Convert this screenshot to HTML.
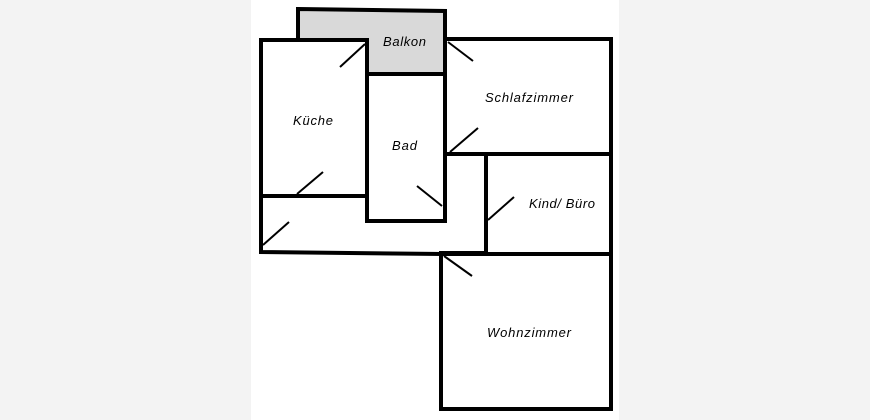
<!DOCTYPE html>
<html><head><style>
html,body{margin:0;padding:0;background:#f3f3f3;}
svg{display:block}
text{font-family:"Liberation Sans",sans-serif;font-style:italic;font-size:13px;fill:#000}
</style></head><body>
<svg width="870" height="420" viewBox="0 0 870 420" xmlns="http://www.w3.org/2000/svg">
<rect x="0" y="0" width="870" height="420" fill="#f3f3f3"/>
<rect x="251" y="0" width="368" height="420" fill="#fff"/>
<g stroke="#000" stroke-width="4" fill="none" stroke-linecap="square">
<polygon points="298,9 445,11 445,74 367,74 367,40 298,40" fill="#d9d9d9"/>
<rect x="261" y="40" width="106" height="156" fill="#fff"/>
<rect x="367" y="74" width="78" height="147"/>
<rect x="445" y="39" width="166" height="115"/>
<rect x="486" y="154" width="125" height="100"/>
<rect x="441" y="254" width="170" height="155"/>
<polyline points="261,196 261,252 441,254"/>
<line x1="441" y1="253" x2="486" y2="253"/>
</g>
<g stroke="#000" stroke-width="2">
<line x1="340" y1="67" x2="365" y2="44"/>
<line x1="297" y1="194" x2="323" y2="172"/>
<line x1="263" y1="245" x2="289" y2="222"/>
<line x1="417" y1="186" x2="442" y2="206"/>
<line x1="448" y1="42" x2="473" y2="61"/>
<line x1="450" y1="152" x2="478" y2="128"/>
<line x1="488" y1="220" x2="514" y2="197"/>
<line x1="444" y1="256" x2="472" y2="276"/>
</g>
<text x="383" y="46" textLength="43">Balkon</text>
<text x="293" y="125" textLength="40">Küche</text>
<text x="392" y="150" textLength="25">Bad</text>
<text x="485" y="102" textLength="88">Schlafzimmer</text>
<text x="529" y="208" textLength="66">Kind/ Büro</text>
<text x="487" y="337" textLength="84">Wohnzimmer</text>
</svg>
</body></html>
